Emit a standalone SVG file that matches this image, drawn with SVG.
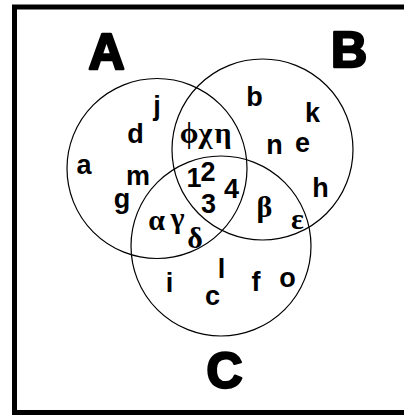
<svg xmlns="http://www.w3.org/2000/svg" width="404" height="415" viewBox="0 0 404 415">
<style>
.set{fill:none;stroke:#000;stroke-width:1.2}
.big{font-family:"Liberation Sans",Arial,sans-serif;font-weight:bold;font-size:50px;fill:#000;stroke:#000;stroke-width:2.5;stroke-linejoin:round;text-anchor:middle}
.el{font-family:"Liberation Sans",Arial,sans-serif;font-weight:bold;font-size:27px;fill:#000;text-anchor:middle}
.gr{font-family:"Liberation Serif","Times New Roman",serif;font-weight:bold;font-size:30px;fill:#000;text-anchor:middle}
</style>
<rect width="404" height="415" fill="#fff"/>
<path d="M410,7 H14.5 V412.5 H410" fill="none" stroke="#000" stroke-width="5"/>
<g id="connectors"></g>
<g id="setA">
<circle class="set" cx="157" cy="168.5" r="90"/>
<text class="big" x="106.5" y="69">A</text>
</g>
<g id="setB">
<circle class="set" cx="262.5" cy="149.5" r="90.5"/>
<text class="big" x="349" y="67">B</text>
</g>
<g id="setC">
<circle class="set" cx="221" cy="246" r="90"/>
<text class="big" x="224.5" y="388">C</text>
</g>
<g id="elements">
<text class="el" x="157" y="115">j</text>
<text class="el" x="135.5" y="143">d</text>
<text class="el" x="84" y="174">a</text>
<text class="el" x="138" y="185">m</text>
<text class="el" x="122" y="208">g</text>
<text class="el" x="254.5" y="106">b</text>
<text class="el" x="312.5" y="122">k</text>
<text class="el" x="274.5" y="154">n</text>
<text class="el" x="302.5" y="152">e</text>
<text class="el" x="320.5" y="197">h</text>
<text class="el" x="169.5" y="292">i</text>
<text class="el" x="221.5" y="278">l</text>
<text class="el" x="212.5" y="305">c</text>
<text class="el" x="256" y="291">f</text>
<text class="el" x="287.5" y="287">o</text>
<text class="el" x="194" y="187">1</text>
<text class="el" x="208" y="181">2</text>
<text class="el" x="208.5" y="213">3</text>
<text class="el" x="231.5" y="198">4</text>
<text class="gr" x="189" y="143">ϕ</text>
<text class="gr" x="205.5" y="143">χ</text>
<text class="gr" x="223" y="143">η</text>
<text class="gr" x="156.5" y="230">α</text>
<text class="gr" x="177.5" y="228">γ</text>
<text class="gr" x="195" y="248">δ</text>
<text class="gr" x="264.5" y="217">β</text>
<text class="gr" x="297.5" y="229">ε</text>
</g>
</svg>
